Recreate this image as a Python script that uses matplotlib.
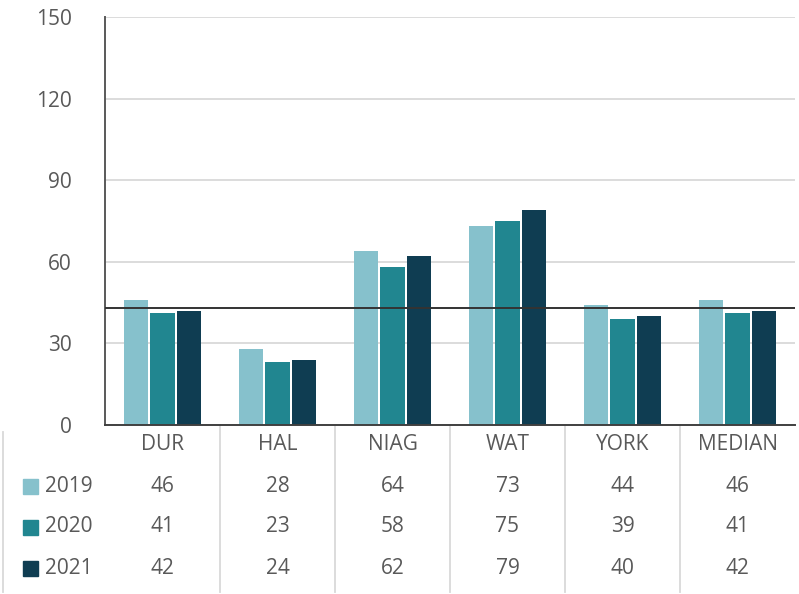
import numpy as np
import matplotlib.pyplot as plt
from matplotlib.patches import Rectangle
from matplotlib.transforms import blended_transform_factory

categories = ["DUR", "HAL", "NIAG", "WAT", "YORK", "MEDIAN"]
years = ["2019", "2020", "2021"]
v2019 = [46, 28, 64, 73, 44, 46]
v2020 = [41, 23, 58, 75, 39, 41]
v2021 = [42, 24, 62, 79, 40, 42]
target = 43
yticks = [0, 30, 60, 90, 120, 150]

colors = ["#86C1CC", "#218690", "#0F3D52"]
text_col = "#595959"
W, H = 799, 594

plt.rcParams["font.family"] = ["Open Sans", "DejaVu Sans"]

fig = plt.figure(figsize=(W / 100, H / 100), dpi=100)
ax = fig.add_axes([105 / W, (H - 425) / H, 690 / W, 408 / H])

x = np.arange(len(categories))
bw = 0.21
step = 0.23
for i, vals in enumerate([v2019, v2020, v2021]):
    ax.bar(x + (i - 1) * step, vals, width=bw, color=colors[i], zorder=2)

ax.axhline(target, color="#333333", lw=1.4, zorder=3)

ax.set_xlim(-0.5, len(categories) - 0.5)
ax.set_ylim(0, 150)
ax.set_yticks(yticks)
ax.set_xticks([])
ax.yaxis.grid(True, color="#D9D9D9", lw=1.3, zorder=0)
ax.tick_params(axis="y", length=0, pad=24, labelsize=15, labelcolor=text_col)
for s in ["top", "right"]:
    ax.spines[s].set_visible(False)
ax.spines["left"].set_color("#595959")
ax.spines["left"].set_linewidth(1.4)
ax.spines["bottom"].set_color("#404040")
ax.spines["bottom"].set_linewidth(1.4)

# data table below the plot
tr = blended_transform_factory(ax.transData, fig.transFigure)
fy = lambda py: 1 - py / H
for k in range(1, len(categories)):
    ax.plot([k - 0.5, k - 0.5], [fy(425), fy(592)], color="#D9D9D9", lw=1.3,
            transform=tr, clip_on=False)
fig.add_artist(plt.Line2D([3 / W, 3 / W], [fy(432), fy(592)], color="#D9D9D9", lw=1.3))

for i, c in enumerate(categories):
    ax.text(i, fy(445), c, transform=tr, ha="center", va="center",
            fontsize=15, color=text_col)

row_y = [486, 527, 568]
for r, vals in enumerate([v2019, v2020, v2021]):
    for i, v in enumerate(vals):
        ax.text(i, fy(row_y[r]), str(v), transform=tr, ha="center", va="center",
                fontsize=15, color=text_col)
    fig.add_artist(Rectangle((23 / W, fy(row_y[r] + 7.5)), 15 / W, 15 / H,
                             transform=fig.transFigure, color=colors[r]))
    fig.text(45 / W, fy(row_y[r]), years[r], ha="left", va="center",
             fontsize=15, color=text_col)

fig.savefig("out.png", dpi=100)
